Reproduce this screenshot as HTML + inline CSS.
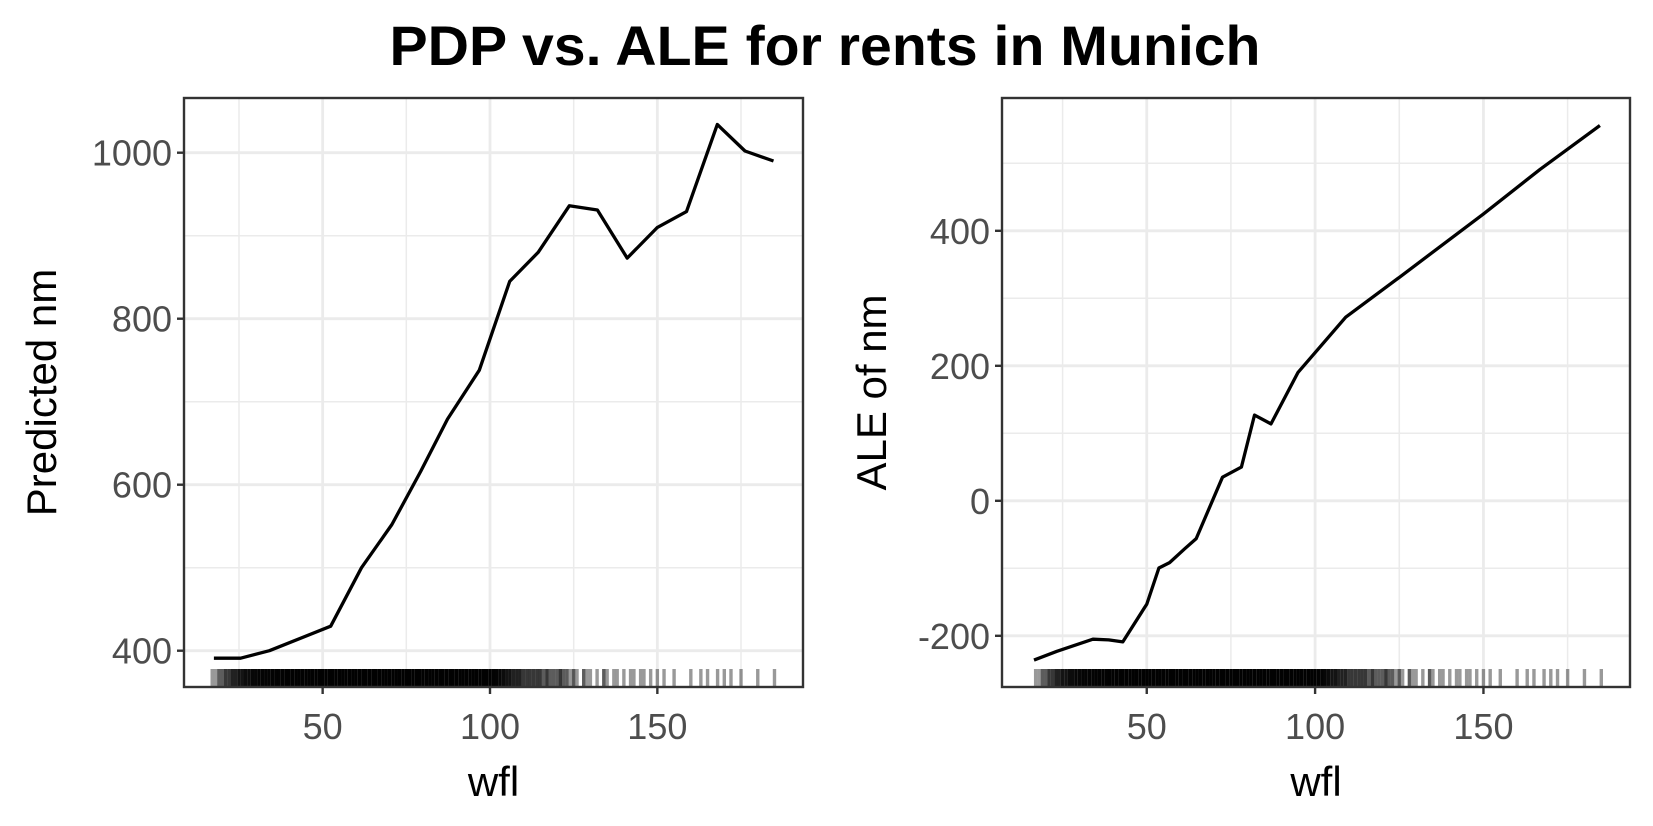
<!DOCTYPE html>
<html><head><meta charset="utf-8"><style>
html,body{margin:0;padding:0;background:#fff;}
svg{display:block;font-family:"Liberation Sans",sans-serif;}
</style></head><body>
<svg id="chart" width="1653" height="826" xmlns="http://www.w3.org/2000/svg">
<text x="825" y="65" text-anchor="middle" font-size="56" font-weight="bold" textLength="871" lengthAdjust="spacingAndGlyphs">PDP vs. ALE for rents in Munich</text>
<g id="left"></g>
<g id="right"></g>
</svg>
<script>
const pdpX=[17.5,25.5,34.1,52.4,61.6,70.7,79.3,87.3,96.8,105.9,114.4,123.7,132.1,141,150,158.7,167.9,176.2,184.7];
const pdpY=[391,391,400,429.5,500,552,616,679,738,845,880,936,931,873,910,929,1034,1002,990];
const aleX=[16.5,23.3,34.0,38.7,42.9,50,53.6,56.8,61.3,64.7,72.5,78.1,82.0,86.9,94.9,109.1,125,150,166.8,184.6];
const aleY=[-236,-223,-205,-206,-209,-153,-99.5,-91.5,-71,-56,35,50,127,114,190,272,331,425,491,556];
const xTicks=[50,100,150];
const xMinor=[25,75,125,175];
const pdpTicks=[400,600,800,1000];
const pdpMinor=[500,700,900];
const aleTicks=[-200,0,200,400];
const aleMinor=[-100,100,300,500];
const rugValues=[17,18,19,20,21,22,23,24,25,26,27,28,29,30,31,32,33,34,35,36,37,38,39,40,41,42,43,44,45,46,47,48,49,50,51,52,53,54,55,56,57,58,59,60,61,62,63,64,65,66,67,68,69,70,71,72,73,74,75,76,77,78,79,80,81,82,83,84,85,86,87,88,89,90,91,92,93,94,95,96,97,98,99,100,101,102,103,104,105,106,107,108,109,110,111,112,113,114,115,116,117,118,119,120,121,122,123,124,125,126,128,129,130,132,134,135,137,138,140,142,143,145,146,148,150,152,155,160,163,165,168,170,172,175,180,185];
const rugCounts=[1,1,2,2,3,3,4,4,5,5,6,6,7,7,8,8,8,8,9,9,9,9,10,10,10,10,10,10,10,10,10,10,10,10,10,10,10,10,10,10,10,10,10,10,10,10,10,10,10,10,10,10,10,10,10,10,10,10,10,10,10,10,10,10,10,10,10,10,10,10,10,10,10,10,10,10,10,10,10,10,10,10,10,10,9,8,7,6,5,5,4,4,4,3,3,3,3,3,3,2,3,2,2,2,3,2,2,1,2,1,2,1,1,1,2,1,1,1,1,1,1,1,1,1,1,1,1,1,1,1,1,1,1,1,1,1];
const NS="http://www.w3.org/2000/svg";
function mk(p,tag,attrs){const e=document.createElementNS(NS,tag);for(const k in attrs)e.setAttribute(k,attrs[k]);p.appendChild(e);return e;}
function panel(g,cfg){
  const L=cfg.left,R=cfg.right,T=98,B=687;
  const sx=v=>cfg.x0+v*cfg.kx;
  const sy=v=>cfg.y0-(v-cfg.v0)*cfg.ky;
  const bg=mk(g,'rect',{x:L,y:T,width:R-L,height:B-T,fill:'#fff'});
  
  
  cfg.yMinor.forEach(v=>{const l=mk(g,'line',{x1:L,x2:R,y1:sy(v),y2:sy(v),stroke:'#ebebeb','stroke-width':1.5});
    
    });
  xMinor.forEach(v=>{const l=mk(g,'line',{x1:sx(v),x2:sx(v),y1:T,y2:B,stroke:'#ebebeb','stroke-width':1.5});
    
    });
  cfg.yTicks.forEach(v=>{const l=mk(g,'line',{x1:L,x2:R,y1:sy(v),y2:sy(v),stroke:'#ebebeb','stroke-width':2.8});
    
    
    const t=mk(g,'line',{x1:L-7,x2:L,y1:sy(v),y2:sy(v),stroke:'#333','stroke-width':2.4});
    
    
    const tx=mk(g,'text',{x:L-12,y:sy(v)+13,'text-anchor':'end','font-size':36,fill:'#4d4d4d'});
    tx.textContent=v;
    
    });
  xTicks.forEach(v=>{const l=mk(g,'line',{x1:sx(v),x2:sx(v),y1:T,y2:B,stroke:'#ebebeb','stroke-width':2.8});
    
    
    const t=mk(g,'line',{x1:sx(v),x2:sx(v),y1:B,y2:B+7,stroke:'#333','stroke-width':2.4});
    
    
    const tx=mk(g,'text',{x:sx(v),y:B+52,'text-anchor':'middle','font-size':36,fill:'#4d4d4d'});
    tx.textContent=v;
    
    });
  rugValues.forEach((v,i)=>{const op=1-Math.pow(0.6,rugCounts[i]);
    const r=mk(g,'line',{x1:sx(v),x2:sx(v),y1:669,y2:686,stroke:'#000','stroke-width':3.4,'stroke-opacity':op.toFixed(3)});
    
    });
  const pts=cfg.xs.map((x,i)=>sx(x).toFixed(1)+','+sy(cfg.ys[i]).toFixed(1)).join(' ');
  const pl=mk(g,'polyline',{points:pts,fill:'none',stroke:'#000','stroke-width':3.3,'stroke-linejoin':'round'});
  
  
  const bd=mk(g,'rect',{x:L,y:T,width:R-L,height:B-T,fill:'none',stroke:'#333','stroke-width':2.4});
  
  
  const xt=mk(g,'text',{x:(L+R)/2,y:796,'text-anchor':'middle','font-size':42,fill:'#000'});
  xt.textContent='wfl';
  
  
  const yt=mk(g,'text',{x:0,y:0,'text-anchor':'middle','font-size':42,fill:'#000',transform:'translate('+cfg.ytx+','+(T+B)/2+') rotate(-90)'});
  yt.textContent=cfg.ytitle;
  
  
}
panel(document.getElementById('left'),{left:184,right:803,x0:155.3,kx:3.347,y0:650.7,v0:400,ky:0.83,
  yTicks:pdpTicks,yMinor:pdpMinor,xs:pdpX,ys:pdpY,ytitle:'Predicted nm',ytx:56,lineName:'pdp-line'});
panel(document.getElementById('right'),{left:1002,right:1630,x0:978.4,kx:3.367,y0:500.8,v0:0,ky:0.675,
  yTicks:aleTicks,yMinor:aleMinor,xs:aleX,ys:aleY,ytitle:'ALE of nm',ytx:886,lineName:'ale-line'});
</script>
</body></html>
